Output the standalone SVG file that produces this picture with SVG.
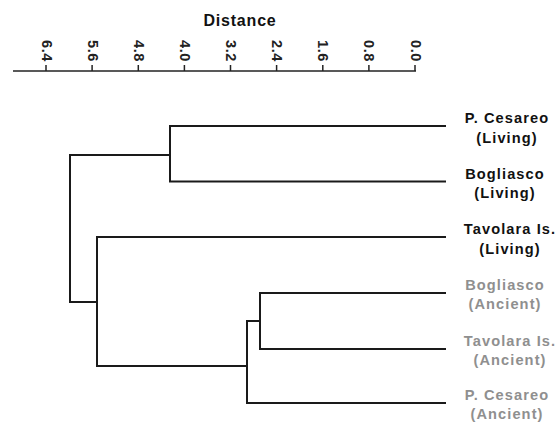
<svg xmlns="http://www.w3.org/2000/svg" width="560" height="423" viewBox="0 0 560 423">
<style>
.axis{stroke:#222;stroke-width:1.5;fill:none}
.tick{stroke:#222;stroke-width:1.5}
.tl{font-family:"Liberation Sans",Arial,sans-serif;font-weight:bold;font-size:14.5px;fill:#222;letter-spacing:0.6px}
.title{font-family:"Liberation Sans",Arial,sans-serif;font-weight:bold;font-size:16px;fill:#111;letter-spacing:0.8px}
.br{stroke:#1a1a1a;stroke-width:2;fill:none;stroke-linecap:square}
.lab{font-family:"Liberation Sans",Arial,sans-serif;font-weight:bold;font-size:14.6px;letter-spacing:1.1px;text-anchor:middle}
.living{fill:#111}
.ancient{fill:#8f8f8f}
</style>
<g id="axis">
<text class="title" x="240" y="26" text-anchor="middle">Distance</text>
<path class="axis" d="M13,71 H416"/>
<g class="tick">
<line x1="46" y1="65" x2="46" y2="71"/>
<line x1="92.1" y1="65" x2="92.1" y2="71"/>
<line x1="138.3" y1="65" x2="138.3" y2="71"/>
<line x1="184.4" y1="65" x2="184.4" y2="71"/>
<line x1="230.5" y1="65" x2="230.5" y2="71"/>
<line x1="276.6" y1="65" x2="276.6" y2="71"/>
<line x1="322.8" y1="65" x2="322.8" y2="71"/>
<line x1="368.9" y1="65" x2="368.9" y2="71"/>
<line x1="415" y1="65" x2="415" y2="71"/>
</g>
<g class="tl" text-anchor="end">
<text transform="translate(41.5,62) rotate(90)">6.4</text>
<text transform="translate(87.6,62) rotate(90)">5.6</text>
<text transform="translate(133.8,62) rotate(90)">4.8</text>
<text transform="translate(179.9,62) rotate(90)">4.0</text>
<text transform="translate(226,62) rotate(90)">3.2</text>
<text transform="translate(272.1,62) rotate(90)">2.4</text>
<text transform="translate(318.3,62) rotate(90)">1.6</text>
<text transform="translate(364.4,62) rotate(90)">0.8</text>
<text transform="translate(410.5,62) rotate(90)">0.0</text>
</g>
</g>
<g id="connectors">
<path class="br" d="M445,126 H170 V181.5 H445"/>
<path class="br" d="M170,155 H70 V302 H97"/>
<path class="br" d="M445,237 H97 V366 H247"/>
<path class="br" d="M445,293 H260 V349 H445"/>
<path class="br" d="M260,321 H247 V403 H445"/>
</g>
<g id="pcesareo-living">
<text class="lab living" x="507" y="123">P. Cesareo</text>
<text class="lab living" x="507" y="143">(Living)</text>
</g>
<g id="bogliasco-living">
<text class="lab living" x="505" y="178.5">Bogliasco</text>
<text class="lab living" x="505" y="198">(Living)</text>
</g>
<g id="tavolara-living">
<text class="lab living" x="510" y="234">Tavolara Is.</text>
<text class="lab living" x="510" y="253.5">(Living)</text>
</g>
<g id="bogliasco-ancient">
<text class="lab ancient" x="505" y="289.5">Bogliasco</text>
<text class="lab ancient" x="505" y="308.5">(Ancient)</text>
</g>
<g id="tavolara-ancient">
<text class="lab ancient" x="510" y="345.5">Tavolara Is.</text>
<text class="lab ancient" x="510" y="364.5">(Ancient)</text>
</g>
<g id="pcesareo-ancient">
<text class="lab ancient" x="507" y="400">P. Cesareo</text>
<text class="lab ancient" x="507" y="419">(Ancient)</text>
</g>
</svg>
